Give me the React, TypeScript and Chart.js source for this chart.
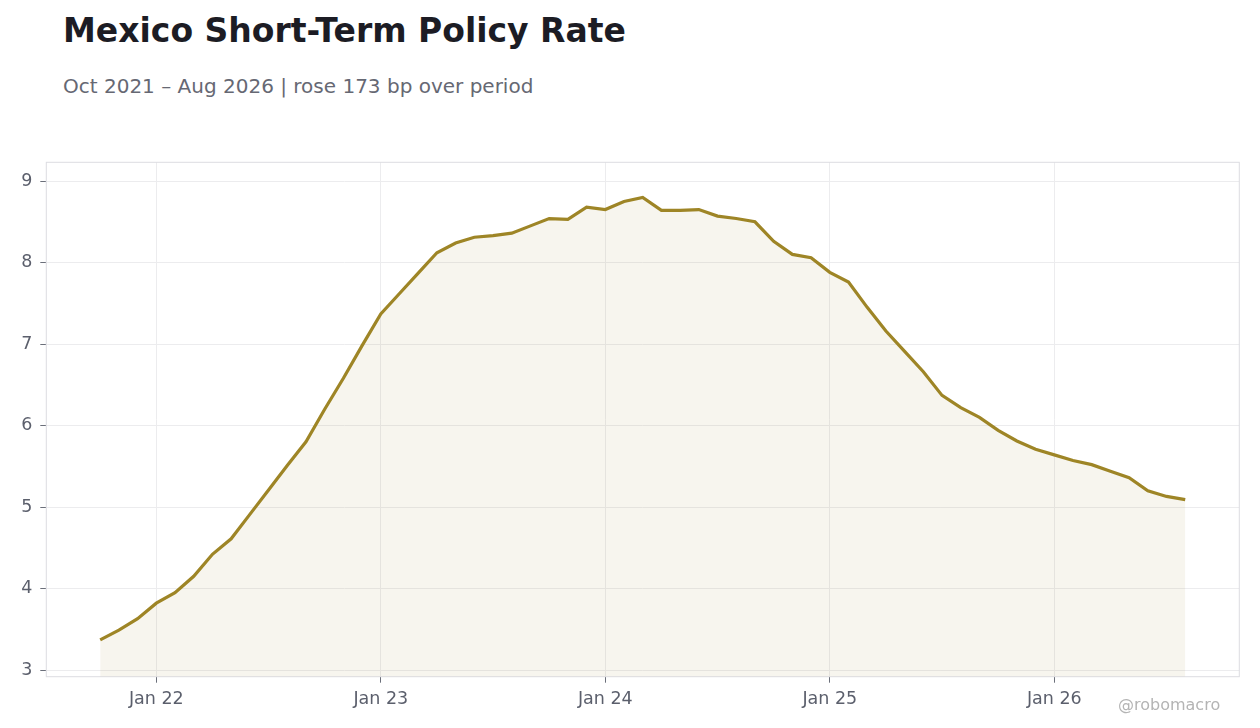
import { useEffect, useRef } from "react"
import { Chart, registerables } from "chart.js"

Chart.register(...registerables)

const months = [
  "2021-10", "2021-11", "2021-12",
  "2022-01", "2022-02", "2022-03", "2022-04", "2022-05", "2022-06",
  "2022-07", "2022-08", "2022-09", "2022-10", "2022-11", "2022-12",
  "2023-01", "2023-02", "2023-03", "2023-04", "2023-05", "2023-06",
  "2023-07", "2023-08", "2023-09", "2023-10", "2023-11", "2023-12",
  "2024-01", "2024-02", "2024-03", "2024-04", "2024-05", "2024-06",
  "2024-07", "2024-08", "2024-09", "2024-10", "2024-11", "2024-12",
  "2025-01", "2025-02", "2025-03", "2025-04", "2025-05", "2025-06",
  "2025-07", "2025-08", "2025-09", "2025-10", "2025-11", "2025-12",
  "2026-01", "2026-02", "2026-03", "2026-04", "2026-05", "2026-06",
  "2026-07", "2026-08",
]

const rates = [
  3.37, 3.49, 3.63,
  3.82, 3.95, 4.15, 4.42, 4.61, 4.91,
  5.21, 5.51, 5.80, 6.20, 6.58, 6.98,
  7.37, 7.62, 7.87, 8.12, 8.24, 8.31,
  8.33, 8.36, 8.45, 8.54, 8.53, 8.68,
  8.65, 8.75, 8.80, 8.64, 8.64, 8.65,
  8.57, 8.54, 8.50, 8.26, 8.10, 8.06,
  7.88, 7.76, 7.45, 7.16, 6.91, 6.66,
  6.37, 6.22, 6.10, 5.94, 5.81, 5.71,
  5.64, 5.57, 5.52, 5.44, 5.36, 5.20,
  5.13, 5.09,
]

const tickMonths = ["2022-01", "2023-01", "2024-01", "2025-01", "2026-01"]
const tickLabels = ["Jan 22", "Jan 23", "Jan 24", "Jan 25", "Jan 26"]
const yTicks = [3, 4, 5, 6, 7, 8, 9]

const FONT = "'DejaVu Sans', sans-serif"
const LINE = "rgb(158, 133, 38)"

// light frame around the plot area
const framePlugin = {
  id: "frame",
  beforeDatasetsDraw(chart: any) {
    const { ctx, chartArea: a } = chart
    ctx.save()
    ctx.strokeStyle = "#dcdde2"
    ctx.lineWidth = 1
    ctx.strokeRect(a.left, a.top, a.right - a.left, a.bottom - a.top)
    ctx.restore()
  },
}

export default function App() {
  const chartRef = useRef<HTMLCanvasElement>(null)
  const chartInstance = useRef<Chart | null>(null)

  useEffect(() => {
    if (!chartRef.current) return
    if (chartInstance.current) chartInstance.current.destroy()

    const points = rates.map((v, i) => ({ x: i, y: v }))

    chartInstance.current = new Chart(chartRef.current, {
      type: "line",
      data: {
        datasets: [
          {
            label: "Policy rate",
            data: points,
            borderColor: LINE,
            borderWidth: 3.2,
            backgroundColor: "rgba(158, 133, 38, 0.08)",
            fill: "start",
            pointRadius: 0,
            tension: 0,
          },
        ],
      },
      options: {
        animation: false,
        responsive: true,
        maintainAspectRatio: false,
        layout: { padding: { top: 162.3, right: 20.7, left: 0, bottom: 0 } },
        plugins: {
          legend: { display: false },
          tooltip: { enabled: false },
        },
        scales: {
          x: {
            type: "linear",
            min: -2.88,
            max: 60.89,
            afterBuildTicks: (scale: any) => {
              scale.ticks = tickMonths.map((m) => ({ value: months.indexOf(m) }))
            },
            afterFit: (scale: any) => {
              scale.height = 51.3
            },
            ticks: {
              callback: (_v: any, i: number) => tickLabels[i],
              color: "#5b5f6c",
              font: { family: FONT, size: 17.5 },
              padding: 6,
              maxRotation: 0,
            },
            grid: {
              color: "#ececee",
              tickColor: "#6b6f7a",
              tickLength: 6,
            },
            border: { display: false },
          },
          y: {
            min: 2.918,
            max: 9.23,
            afterBuildTicks: (scale: any) => {
              scale.ticks = yTicks.map((v) => ({ value: v }))
            },
            afterFit: (scale: any) => {
              scale.width = 46.3
            },
            ticks: {
              color: "#5b5f6c",
              font: { family: FONT, size: 17.5 },
              padding: 8,
            },
            grid: {
              color: "#ececee",
              tickColor: "#6b6f7a",
              tickLength: 6,
            },
            border: { display: false },
          },
        },
      },
      plugins: [framePlugin],
    })

    return () => {
      if (chartInstance.current) {
        chartInstance.current.destroy()
        chartInstance.current = null
      }
    }
  }, [])

  return (
    <div
      style={{
        position: "fixed",
        left: 0,
        top: 0,
        width: 1260,
        height: 728,
        background: "#fff",
        fontFamily: FONT,
      }}
    >
      <div
        style={{
          position: "absolute",
          left: 63,
          top: 14,
          fontSize: 33,
          lineHeight: "33px",
          fontWeight: "bold",
          color: "#1c1c24",
          whiteSpace: "nowrap",
        }}
      >
        Mexico Short-Term Policy Rate
      </div>
      <div
        style={{
          position: "absolute",
          left: 63,
          top: 76,
          fontSize: 20,
          lineHeight: "20px",
          color: "#666873",
          whiteSpace: "nowrap",
        }}
      >
        Oct 2021 – Aug 2026 | rose 173 bp over period
      </div>
      <div style={{ position: "absolute", left: 0, top: 0, width: 1260, height: 728 }}>
        <canvas ref={chartRef}></canvas>
      </div>
      <div
        style={{
          position: "absolute",
          left: 1118,
          top: 697,
          fontSize: 16,
          lineHeight: "16px",
          color: "#b4b4b4",
          whiteSpace: "nowrap",
        }}
      >
        @robomacro
      </div>
    </div>
  )
}
